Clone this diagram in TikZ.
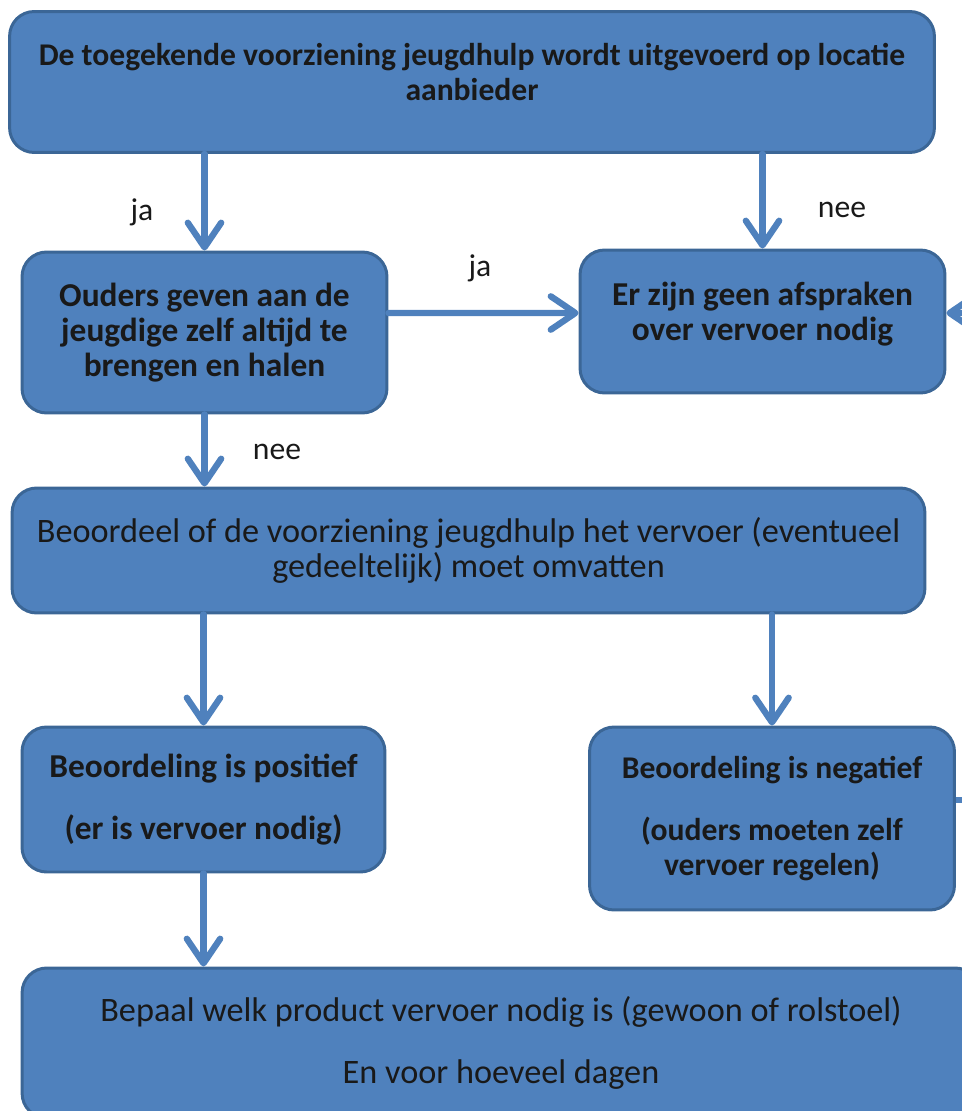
\documentclass[tikz,border=0pt]{standalone}
\usepackage{fontspec}
\setmainfont{Carlito}
\usetikzlibrary{arrows.meta, positioning}

\definecolor{boxblue}{HTML}{4F81BD}
\definecolor{boxedge}{HTML}{3B6696}

\begin{document}
\begin{tikzpicture}[x=0.02cm, y=-0.02cm,
	box/.style={draw=boxedge, line width=1.7pt, fill=boxblue, rounded corners=14pt,
		align=center, inner sep=0pt, text=black!90,
		font=\fontsize{19}{20}\selectfont\bfseries},
	plainbox/.style={box, font=\fontsize{19.5}{20}\selectfont},
	flow/.style={draw=boxblue, line width=3.6pt, line cap=round,
		-{Straight Barb[length=14pt, width=19pt, round]}},
	lbl/.style={text=black!90, font=\fontsize{18}{20}\selectfont}]
	
	\clip (0,0) rectangle (962,1111);
	
	% Boxes
	\node[box, font=\fontsize{18}{20}\selectfont\bfseries, minimum width=18.5cm, minimum height=2.82cm] (toekenning) at (472,82)
		{De toegekende voorziening jeugdhulp wordt uitgevoerd op locatie\\aanbieder\\[-8pt]\mbox{}};
	\node[box, minimum width=7.3cm, minimum height=3.22cm] (ouders) at (204.5,332.5)
		{Ouders geven aan de\\jeugdige zelf altijd te\\brengen en halen};
	\node[box, minimum width=7.3cm, minimum height=2.86cm] (geenafspraak) at (762.5,321.5)
		{Er zijn geen afspraken\\over vervoer nodig\\[-8pt]\mbox{}};
	\node[plainbox, minimum width=18.26cm, minimum height=2.5cm] (beoordeel) at (468.5,550.5)
		{Beoordeel of de voorziening jeugdhulp het vervoer (eventueel\\gedeeltelijk) moet omvatten};
	\node[box, minimum width=7.26cm, minimum height=2.9cm] (positief) at (203.5,799.5)
		{Beoordeling is positief\\[15pt](er is vervoer nodig)};
	\node[box, font=\fontsize{18}{20}\selectfont\bfseries, minimum width=7.3cm, minimum height=3.66cm] (negatief) at (772,818.5)
		{Beoordeling is negatief\\[15pt](ouders moeten zelf\\vervoer regelen)};
	\node[plainbox, minimum width=19.16cm, minimum height=3.0cm] (bepaal) at (501,1043)
		{Bepaal welk product vervoer nodig is (gewoon of rolstoel)\\[15pt]En voor hoeveel dagen};
	
	% Connectors
	\draw[flow] (ouders.north |- toekenning.south) -- (ouders.north);
	\draw[flow] (geenafspraak.north |- toekenning.south) -- (geenafspraak.north);
	\draw[flow] ([yshift=3.9mm]ouders.east) -- ([yshift=1.7mm]geenafspraak.west);
	\draw[flow] (ouders.south) -- (ouders.south |- beoordeel.north);
	\draw[flow] (positief.north |- beoordeel.south) -- (positief.north);
	\draw[flow] (negatief.north |- beoordeel.south) -- (negatief.north);
	\draw[flow] (positief.south) -- (positief.south |- bepaal.north);
	
	% Connectors from outside the picture
	\coordinate (randA) at (990,313);
	\coordinate (randB) at (990,800);
	\draw[flow] (randA) -- ([yshift=1.7mm]geenafspraak.east);
	\draw[draw=boxblue, line width=3.6pt] (randB -| negatief.east) -- (randB);
	
	% Labels
	\node[lbl] (jaA) at (142,212) {ja};
	\node[lbl] (neeA) at (842,210) {nee};
	\node[lbl] (jaB) at (480,268) {ja};
	\node[lbl] (neeB) at (277,452) {nee};
	
\end{tikzpicture}
\end{document}
